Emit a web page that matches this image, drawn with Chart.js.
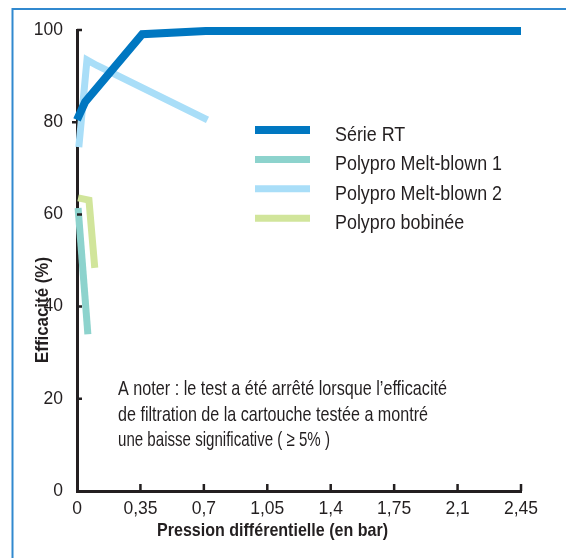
<!DOCTYPE html>
<html>
<head>
<meta charset="utf-8">
<script src="https://cdn.jsdelivr.net/npm/chart.js@4.4.1/dist/chart.umd.min.js"></script>
<style>
html,body{margin:0;padding:0;background:#fff;}
#wrap{position:relative;width:566px;height:558px;}
canvas{display:block;}
</style>
</head>
<body>
<div id="wrap"><canvas id="c" width="566" height="558"></canvas></div>
<script>
// ---- data ----
const xTicks = [0, 0.35, 0.7, 1.05, 1.4, 1.75, 2.1, 2.45];
const xTickLabels = ['0', '0,35', '0,7', '1,05', '1,4', '1,75', '2,1', '2,45'];
const yTicks = [0, 20, 40, 60, 80, 100];
const seriesNames = ['Série RT', 'Polypro Melt-blown 1', 'Polypro Melt-blown 2', 'Polypro bobinée'];
const serieRT = [[0, 80.5], [0.045, 84.4], [0.36, 99.1], [0.71, 99.8], [2.45, 99.8]];
const meltBlown1 = [[0.006, 61.4], [0.06, 34]];
const meltBlown2 = [[0.01, 74.6], [0.055, 93.5], [0.11, 92.3], [0.72, 80.5]];
const bobinee = [[0.006, 63.6], [0.066, 63.1], [0.098, 48.4]];
const xTitle = 'Pression différentielle (en bar)';
const yTitle = 'Efficacité (%)';
const noteLines = [
  'A noter : le test a été arrêté lorsque l\u2019efficacité',
  'de filtration de la cartouche testée a montré',
  'une baisse significative ( \u2265 5% )'
];

const colors = ['#0077c1', '#8dd3cd', '#a9def8', '#d1e59b'];
const widths = [8, 7, 7, 7];
const FONT = "'Liberation Sans', Arial, sans-serif";
const TXT = '#231f20';

const toPts = a => a.map(p => ({x: p[0], y: p[1]}));
const allSeries = [serieRT, meltBlown1, meltBlown2, bobinee];

const datasets = allSeries.map((s, i) => ({
  label: seriesNames[i],
  data: toPts(s),
  borderColor: colors[i],
  backgroundColor: colors[i],
  borderWidth: widths[i],
  pointRadius: 0,
  tension: 0,
  clip: false,
  fill: false,
  borderJoinStyle: 'miter',
  borderCapStyle: 'butt'
}));

function fitText(ctx, text, x, y, target) {
  const w = ctx.measureText(text).width;
  const s = target / w;
  ctx.save();
  ctx.translate(x, y);
  ctx.scale(s, 1);
  ctx.fillText(text, 0, 0);
  ctx.restore();
  return s;
}

const decor = {
  id: 'decor',
  beforeDraw(chart) {
    const ctx = chart.ctx;
    ctx.save();
    ctx.fillStyle = '#fff';
    ctx.fillRect(0, 0, chart.width, chart.height);
    ctx.strokeStyle = '#3189cf';
    ctx.lineWidth = 2;
    ctx.beginPath();
    ctx.moveTo(566, 9);
    ctx.lineTo(12.5, 9);
    ctx.lineTo(12.5, 558);
    ctx.stroke();
    ctx.restore();
  },
  afterDraw(chart) {
    const ctx = chart.ctx;
    const xs = chart.scales.x, ys = chart.scales.y;
    const area = chart.chartArea;
    ctx.save();
    ctx.strokeStyle = TXT;
    ctx.lineWidth = 2.5;
    ctx.beginPath();
    xTicks.forEach(v => {
      if (v === 0) return;
      const px = xs.getPixelForValue(v);
      ctx.moveTo(px, area.bottom);
      ctx.lineTo(px, area.bottom - 7);
    });
    yTicks.forEach(v => {
      if (v === 0) return;
      const py = ys.getPixelForValue(v);
      if (v === 80) { ctx.moveTo(area.left, py); ctx.lineTo(area.left - 5, py); }
      else { ctx.moveTo(area.left, py); ctx.lineTo(area.left + 5, py); }
    });
    ctx.stroke();

    ctx.fillStyle = TXT;
    ctx.textBaseline = 'alphabetic';
    // axis titles
    ctx.font = 'bold 19px ' + FONT;
    ctx.textAlign = 'center';
    fitText(ctx, xTitle, 272.5, 536, 231);
    ctx.save();
    ctx.translate(48, 310);
    ctx.rotate(-Math.PI / 2);
    fitText(ctx, yTitle, 0, 0, 106);
    ctx.restore();

    // legend
    ctx.font = '21px ' + FONT;
    ctx.textAlign = 'left';
    const ls = 167 / ctx.measureText(seriesNames[1]).width;
    chart.data.datasets.forEach((d, i) => {
      const y = 130 + i * 29.4;
      ctx.strokeStyle = d.borderColor;
      ctx.lineWidth = i === 0 ? 8 : 7;
      ctx.beginPath();
      ctx.moveTo(255, y);
      ctx.lineTo(310, y);
      ctx.stroke();
      ctx.save();
      ctx.translate(335, y + 11);
      ctx.scale(ls, 1);
      ctx.fillText(d.label, 0, 0);
      ctx.restore();
    });

    // note
    const targets = [329, 310, 212];
    noteLines.forEach((l, i) => {
      fitText(ctx, l, 118, 395 + i * 25.5, targets[i]);
    });
    ctx.restore();
  }
};

new Chart(document.getElementById('c'), {
  type: 'line',
  data: {datasets},
  options: {
    responsive: false,
    animation: false,
    layout: {padding: {left: 0, right: 45, top: 30, bottom: 0}},
    plugins: {legend: {display: false}, tooltip: {enabled: false}},
    scales: {
      x: {
        type: 'linear',
        min: 0, max: 2.45,
        grid: {display: false},
        border: {display: true, color: TXT, width: 3},
        afterBuildTicks(s) { s.ticks = xTicks.map(v => ({value: v})); },
        afterFit(s) { s.height = 67; },
        ticks: {
          autoSkip: false, maxRotation: 0, padding: 0,
          color: TXT, font: {family: FONT, size: 17.5},
          callback: (v, i) => xTickLabels[i]
        }
      },
      y: {
        type: 'linear',
        min: 0, max: 100,
        grid: {display: false},
        border: {display: true, color: TXT, width: 3},
        afterBuildTicks(s) { s.ticks = yTicks.map(v => ({value: v})); },
        afterFit(s) { s.width = 77; },
        ticks: {
          padding: 6, color: TXT, font: {family: FONT, size: 17.5},
          callback: v => String(v)
        }
      }
    }
  },
  plugins: [decor]
});
</script>
</body>
</html>
